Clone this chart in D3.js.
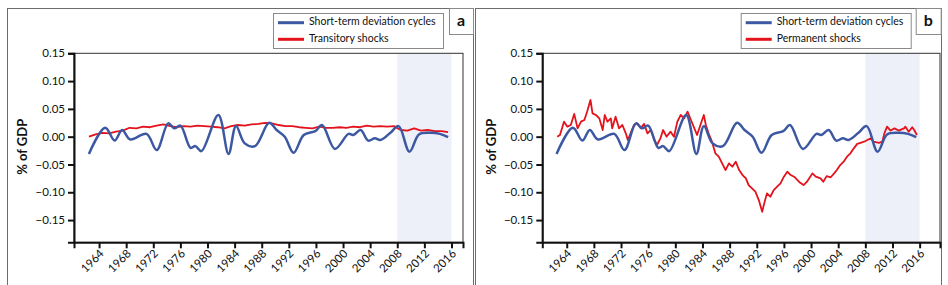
<!DOCTYPE html>
<html>
<head>
<meta charset="utf-8">
<script src="https://cdn.jsdelivr.net/npm/d3@7"></script>
<style>
  body { margin: 0; background: #fff; }
  text { font-family: Lato, "Open Sans", sans-serif; fill: #111; }
</style>
</head>
<body>
<div id="chart"></div>
<script>
// Data
const cycleYears = [1962.5, 1964.9, 1966.3, 1967.4, 1968.6, 1971.0, 1972.5, 1974.2, 1975.1, 1976.0,
  1977.5, 1978.2, 1979.1, 1981.6, 1983.1, 1984.2, 1985.5, 1987.0, 1989.1, 1990.2,
  1991.4, 1992.7, 1994.2, 1995.9, 1996.9, 1998.8, 2000.8, 2001.5, 2002.6, 2003.7,
  2004.7, 2005.5, 2006.9, 2008.2, 2009.8, 2011.2, 2012.8, 2014.3, 2015.5];
const cycleValues = [-0.031, 0.016, -0.007, 0.012, -0.005, 0.005, -0.024, 0.024, 0.015, 0.020,
  -0.020, -0.017, -0.026, 0.039, -0.031, 0.019, -0.012, -0.017, 0.025, 0.012,
  0.000, -0.029, 0.003, 0.010, 0.021, -0.022, 0.005, 0.003, 0.012, -0.007,
  -0.003, -0.006, 0.006, 0.019, -0.027, 0.004, 0.007, 0.005, -0.001];

const transYears = d3.range(1962.5, 2016, 1);
const transValues = [0.000, 0.004, 0.007, 0.006, 0.009, 0.011, 0.016, 0.015, 0.018, 0.017,
  0.020, 0.022, 0.019, 0.017, 0.019, 0.018, 0.020, 0.019, 0.018, 0.017,
  0.015, 0.019, 0.021, 0.020, 0.022, 0.023, 0.025, 0.024, 0.021, 0.019,
  0.019, 0.017, 0.016, 0.015, 0.018, 0.016, 0.016, 0.017, 0.016, 0.018,
  0.017, 0.020, 0.018, 0.019, 0.018, 0.019, 0.012, 0.011, 0.015, 0.011,
  0.012, 0.010, 0.010, 0.008];

const permYears = [1962.6, 1963.0, 1963.6, 1964.1, 1964.6, 1965.1, 1965.6, 1966.1, 1966.6, 1967.0,
  1967.5, 1967.8, 1968.3, 1968.8, 1969.3, 1969.6, 1970.0, 1970.5, 1970.7, 1971.2,
  1971.7, 1972.2, 1972.7, 1973.0, 1973.4, 1973.9, 1974.4, 1974.9, 1975.4, 1975.9,
  1976.4, 1976.9, 1977.3, 1977.8, 1978.2, 1978.7, 1979.3, 1979.8, 1980.3, 1980.8,
  1981.3, 1981.8, 1982.3, 1983.0, 1983.2, 1983.7, 1984.2, 1984.5, 1984.9, 1985.4,
  1985.9, 1986.4, 1986.9, 1987.4, 1987.9, 1988.4, 1988.9, 1989.4, 1989.9, 1990.4,
  1990.8, 1991.3, 1991.8, 1992.3, 1992.8, 1993.1, 1993.5, 1994.0, 1994.5, 1995.0,
  1995.5, 1996.0, 1996.5, 1997.0, 1997.5, 1998.0, 1998.4, 1998.9, 1999.4, 2000.2,
  2000.7, 2001.4, 2001.8, 2002.3, 2002.9, 2003.4, 2003.8, 2004.3, 2004.8, 2005.3,
  2005.8, 2006.3, 2006.8, 2007.3, 2007.8, 2008.3, 2008.8, 2009.2, 2010.0, 2010.5,
  2010.8, 2011.2, 2011.7, 2012.3, 2012.9, 2013.7, 2013.9, 2014.4, 2014.9, 2015.2, 2015.6];
const permValues = [0.000, 0.003, 0.027, 0.018, 0.021, 0.041, 0.015, 0.027, 0.030, 0.045,
  0.066, 0.042, 0.039, 0.033, 0.012, 0.039, 0.027, 0.033, 0.015, 0.036,
  0.015, 0.021, 0.006, -0.006, 0.006, 0.021, 0.024, 0.015, 0.023, 0.006,
  0.012, -0.006, -0.015, -0.003, 0.012, 0.000, 0.009, 0.000, 0.027, 0.039,
  0.033, 0.045, 0.030, 0.009, 0.003, 0.021, 0.039, 0.021, 0.006, -0.009,
  -0.030, -0.036, -0.048, -0.060, -0.048, -0.054, -0.045, -0.060, -0.069, -0.075,
  -0.087, -0.093, -0.099, -0.114, -0.135, -0.120, -0.102, -0.108, -0.096, -0.090,
  -0.084, -0.072, -0.063, -0.069, -0.072, -0.078, -0.083, -0.087, -0.081, -0.066,
  -0.072, -0.075, -0.081, -0.071, -0.073, -0.066, -0.060, -0.051, -0.045, -0.036,
  -0.030, -0.021, -0.013, -0.011, -0.009, -0.006, -0.003, -0.009, -0.011, -0.009,
  0.006, 0.018, 0.011, 0.015, 0.011, 0.015, 0.018, 0.009, 0.017, 0.012, 0.003];

const yTicks = [0.15, 0.10, 0.05, 0.00, -0.05, -0.10, -0.15];
const xTicks = d3.range(1964, 2017, 4);
const shadeRange = [2008, 2016];

const BLUE = '#3c58a2';
const RED = '#e3121b';

const panels = [
  { tag: 'a', redName: 'Transitory shocks', redYears: transYears, redValues: transValues,
    frame: [7, 8, 466], plot: [74, 463], xDomain: [1960.3, 2017.7], yLabelX: 24,
    legend: [273, 13, 170, 35], tagBox: [449, 8, 24, 26] },
  { tag: 'b', redName: 'Permanent shocks', redYears: permYears, redValues: permValues,
    frame: [475, 8, 466], plot: [542.3, 940], xDomain: [1960.4, 2019.0], yLabelX: 493,
    legend: [740.7, 13, 170, 35], tagBox: [915.7, 8, 25, 26] }
];

const W = 948, H = 285;
const plotTop = 53.3, plotBottom = 242.3;

const svg = d3.select('#chart')
  .append('svg')
  .attr('width', W)
  .attr('height', H);

panels.forEach(p => {
  const g = svg.append('g');

  // outer frame
  g.append('rect')
    .attr('x', p.frame[0] + 0.5).attr('y', p.frame[1] + 0.5)
    .attr('width', p.frame[2]).attr('height', 320)
    .attr('fill', 'none').attr('stroke', '#6d6d6d').attr('stroke-width', 1);

  const x = d3.scaleLinear().domain(p.xDomain).range(p.plot);
  const y = d3.scaleLinear().domain([-0.19, 0.15]).range([plotBottom, plotTop]);

  // shaded period
  g.append('rect')
    .attr('x', x(shadeRange[0])).attr('y', plotTop)
    .attr('width', x(shadeRange[1]) - x(shadeRange[0]))
    .attr('height', plotBottom - plotTop)
    .attr('fill', '#edf0f9');

  // plot box (top/right)
  g.append('rect')
    .attr('x', p.plot[0]).attr('y', plotTop)
    .attr('width', p.plot[1] - p.plot[0]).attr('height', plotBottom - plotTop)
    .attr('fill', 'none').attr('stroke', '#333').attr('stroke-width', 1);

  // lines
  const blueLine = d3.line()
    .x((d, i) => x(cycleYears[i]))
    .y(d => y(d))
    .curve(d3.curveCatmullRom.alpha(0.5));
  const redLine = d3.line()
    .x((d, i) => x(p.redYears[i]))
    .y(d => y(d));

  g.append('path')
    .datum(p.redValues)
    .attr('d', redLine)
    .attr('fill', 'none').attr('stroke', RED).attr('stroke-width', 1.8)
    .attr('stroke-linejoin', 'round');

  g.append('path')
    .datum(cycleValues)
    .attr('d', blueLine)
    .attr('fill', 'none').attr('stroke', BLUE).attr('stroke-width', 2.5)
    .attr('stroke-linejoin', 'round');

  // axes
  const yAxis = g.append('g')
    .attr('transform', `translate(${p.plot[0]},0)`)
    .call(d3.axisLeft(y).tickValues(yTicks).tickFormat(d3.format('.2f')).tickSize(6).tickPadding(3));
  yAxis.select('.domain').attr('stroke', '#111').attr('stroke-width', 2);
  yAxis.selectAll('.tick line').attr('stroke', '#111').attr('stroke-width', 2);
  yAxis.selectAll('text').attr('font-size', 11.5).attr('font-family', 'Lato').attr('fill', '#111');

  const xAxis = g.append('g')
    .attr('transform', `translate(0,${plotBottom})`)
    .call(d3.axisBottom(x).tickValues(xTicks).tickFormat(d3.format('d')).tickSize(6));
  xAxis.select('.domain').attr('stroke', '#111').attr('stroke-width', 2);
  xAxis.selectAll('.tick line').attr('stroke', '#111').attr('stroke-width', 2);
  xAxis.selectAll('text')
    .attr('font-size', 11.5).attr('font-family', 'Lato').attr('fill', '#111')
    .attr('dy', null).attr('y', 0)
    .attr('transform', 'translate(5,12) rotate(-45)')
    .style('text-anchor', 'end');

  // y-axis label
  g.append('text')
    .attr('transform', `translate(${p.yLabelX},${(plotTop + plotBottom) / 2 - 1}) rotate(-90)`)
    .attr('text-anchor', 'middle')
    .attr('dominant-baseline', 'middle')
    .attr('font-size', 13).attr('font-weight', 'bold')
    .text('% of GDP');

  // legend
  const [lx, ly, lw, lh] = p.legend;
  const lg = g.append('g');
  lg.append('rect')
    .attr('x', lx + 0.5).attr('y', ly + 0.5).attr('width', lw).attr('height', lh)
    .attr('fill', '#fff').attr('stroke', '#8a8a8a');
  [[BLUE, 'Short-term deviation cycles', 9.7], [RED, p.redName, 26.3]].forEach(([c, t, dy]) => {
    lg.append('line')
      .attr('x1', lx + 5).attr('x2', lx + 31)
      .attr('y1', ly + dy).attr('y2', ly + dy)
      .attr('stroke', c).attr('stroke-width', 3);
    lg.append('text')
      .attr('x', lx + 36).attr('y', ly + dy)
      .attr('dominant-baseline', 'middle')
      .attr('font-size', 10.5)
      .text(t);
  });

  // panel tag
  const [tx, ty, tw, th] = p.tagBox;
  g.append('rect')
    .attr('x', tx + 0.5).attr('y', ty + 0.5).attr('width', tw).attr('height', th)
    .attr('fill', '#fff').attr('stroke', '#8a8a8a');
  g.append('text')
    .attr('x', tx + tw / 2).attr('y', ty + th / 2 + 1)
    .attr('text-anchor', 'middle').attr('dominant-baseline', 'middle')
    .attr('font-size', 16).attr('font-weight', 'bold')
    .text(p.tag);
});
</script>
</body>
</html>
